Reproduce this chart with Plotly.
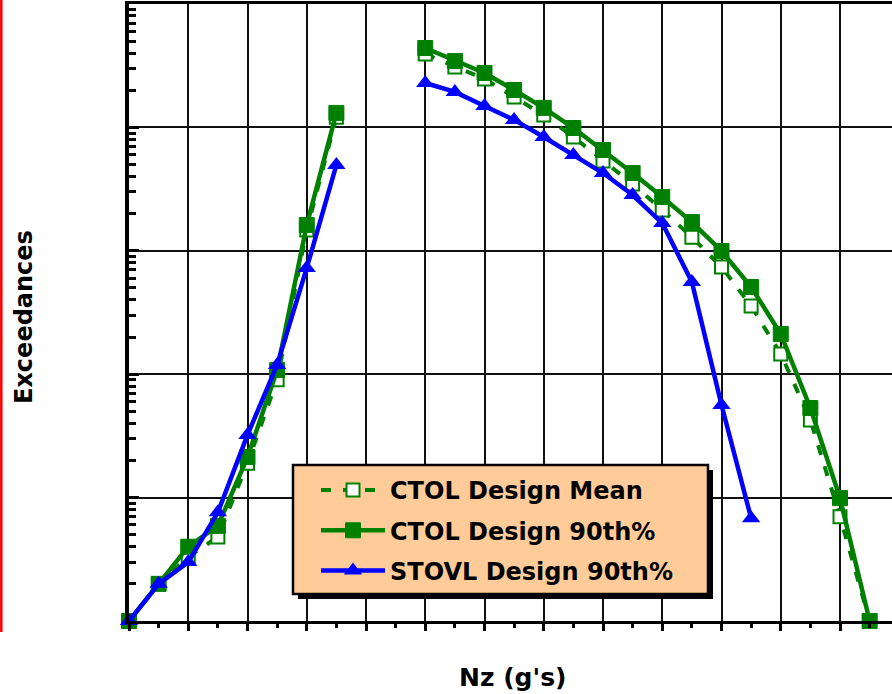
import plotly.graph_objects as go

# Load factor levels (g's) for the negative and positive branches
nz_neg = [-3.0, -2.5, -2.0, -1.5, -1.0, -0.5, 0.0, 0.5]
nz_pos = [2.0, 2.5, 3.0, 3.5, 4.0, 4.5, 5.0, 5.5, 6.0, 6.5, 7.0, 7.5, 8.0, 8.5, 9.0, 9.5]
nz_stovl_pos = [2.0, 2.5, 3.0, 3.5, 4.0, 4.5, 5.0, 5.5, 6.0, 6.5, 7.0, 7.5]

# Exceedance counts
ctol_mean_neg = [1, 2.0, 3.3, 4.8, 19, 90, 1475, 12100]
ctol_mean_pos = [39400, 30900, 24700, 17600, 12600, 8360, 5340, 3480,
                 2140, 1290, 740, 357, 146, 42.6, 7.0, 1]
ctol_90_neg = [1, 2.0, 4.0, 5.9, 21.3, 108, 1620, 13100]
ctol_90_pos = [44000, 34500, 27600, 20100, 14400, 9890, 6560, 4270,
               2730, 1710, 996, 509, 212, 53.2, 9.9, 1]
stovl_90_neg = [1, 2.0, 3.0, 7.6, 32.2, 119, 726, 4960]
stovl_90_pos = [22900, 19400, 14900, 11500, 8360, 5970, 4270, 2830,
                1680, 559, 56.3, 6.8]

series_names = ["CTOL Design Mean", "CTOL Design 90th%", "STOVL Design 90th%"]

GREEN = "#008000"
BLUE = "#0000FF"
PEACH = "#FFCC99"

W, H = 892, 694
ML, MR, MT, MB = 129, 0, 4, 73
PW, PH = W - ML - MR, H - MT - MB


def px_x(px):
    return (px - ML) / PW


def px_y(py):
    return (H - MB - py) / PH


def branches(xn, yn, xp, yp):
    # join both branches with a gap so they are drawn as separate curves
    return xn + [None] + xp, yn + [None] + yp


fig = go.Figure()

x, y = branches(nz_neg, ctol_mean_neg, nz_pos, ctol_mean_pos)
fig.add_trace(go.Scatter(
    x=x, y=y, name=series_names[0], legendgroup="g1", mode="lines+markers",
    line=dict(color=GREEN, width=4, dash="10px,12px"),
    marker=dict(symbol="square", size=13, color="white",
                line=dict(color=GREEN, width=2)),
    cliponaxis=False,
))

x, y = branches(nz_neg, ctol_90_neg, nz_pos, ctol_90_pos)
fig.add_trace(go.Scatter(
    x=x, y=y, name=series_names[1], legendgroup="g2", mode="lines+markers",
    line=dict(color=GREEN, width=4.5),
    marker=dict(symbol="square", size=15, color=GREEN,
                line=dict(color=GREEN, width=1)),
    cliponaxis=False,
))

x, y = branches(nz_neg, stovl_90_neg, nz_stovl_pos, stovl_90_pos)
fig.add_trace(go.Scatter(
    x=x, y=y, name=series_names[2], legendgroup="g3", mode="lines+markers",
    line=dict(color=BLUE, width=4.5),
    marker=dict(symbol="triangle-up", size=16, color=BLUE),
    cliponaxis=False,
))

x_lo = -3.0
x_hi = x_lo + PW / 59.25

fig.update_layout(
    width=W, height=H,
    margin=dict(l=ML, r=MR, t=MT, b=MB),
    paper_bgcolor="white", plot_bgcolor="white",
    font=dict(family="DejaVu Sans", color="black"),
    xaxis=dict(
        range=[x_lo, x_hi], tick0=-3, dtick=1,
        showgrid=True, gridcolor="#111", gridwidth=1.5,
        zeroline=False, showticklabels=False,
        showline=True, linecolor="black", linewidth=3, mirror=True,
        ticks="outside", ticklen=7, tickwidth=3, tickcolor="black",
        minor=dict(dtick=0.5, tick0=-3, ticks="outside", ticklen=4,
                   tickwidth=2.5, tickcolor="black", showgrid=False),
    ),
    xaxis2=dict(
        overlaying="x", matches="x", anchor="y", side="bottom",
        range=[x_lo, x_hi], tick0=-3, dtick=1,
        showgrid=False, zeroline=False, showline=False, showticklabels=False,
        ticks="inside", ticklen=6, tickwidth=3, tickcolor="black",
        minor=dict(dtick=0.5, tick0=-3, ticks="inside", ticklen=4,
                   tickwidth=2.5, tickcolor="black", showgrid=False),
    ),
    yaxis=dict(
        type="log", range=[0, 5], dtick=1,
        showgrid=True, gridcolor="#111", gridwidth=1.5,
        zeroline=False, showticklabels=False,
        showline=True, linecolor="black", linewidth=4,
        ticks="inside", ticklen=10, tickwidth=3, tickcolor="black",
        minor=dict(dtick="D1", ticks="inside", ticklen=7, tickwidth=2.5,
                   tickcolor="black", showgrid=False),
    ),
    legend=dict(
        x=px_x(316), y=px_y(468), xanchor="left", yanchor="top",
        bgcolor="rgba(0,0,0,0)", borderwidth=0,
        font=dict(family="DejaVu Sans", size=24, color="black", weight="bold"),
        itemwidth=64, tracegroupgap=6, traceorder="grouped",
    ),
    showlegend=True,
)

# legend panel with drop shadow
fig.add_shape(type="rect", xref="paper", yref="paper", layer="above",
              x0=px_x(298), x1=px_x(713), y0=px_y(599), y1=px_y(470),
              fillcolor="black", line=dict(width=0))
fig.add_shape(type="rect", xref="paper", yref="paper", layer="above",
              x0=px_x(293), x1=px_x(708), y0=px_y(594), y1=px_y(465),
              fillcolor=PEACH, line=dict(color="black", width=2.5))

# red rule at the left edge
fig.add_shape(type="line", xref="paper", yref="paper",
              x0=px_x(1.3), x1=px_x(1.3), y0=px_y(0), y1=px_y(632),
              line=dict(color="red", width=2.5))

fig.add_annotation(text="Exceedances", xref="paper", yref="paper",
                   x=px_x(24), y=px_y(317), xanchor="center", yanchor="middle",
                   textangle=-90, showarrow=False,
                   font=dict(family="DejaVu Sans", size=24, weight="bold"))
fig.add_annotation(text="Nz (g's)", xref="paper", yref="paper",
                   x=px_x(512), y=px_y(677), xanchor="center", yanchor="middle",
                   showarrow=False,
                   font=dict(family="DejaVu Sans", size=25, weight="bold"))

fig.write_html("out.html")
